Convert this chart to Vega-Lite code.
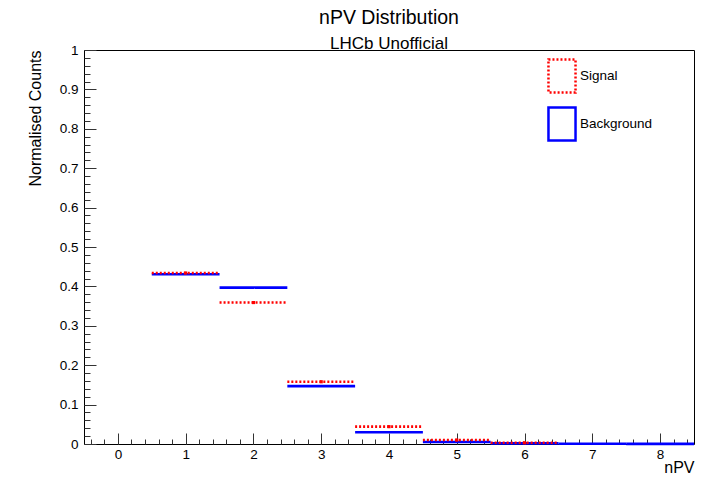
{
  "$schema": "https://vega.github.io/schema/vega-lite/v6.json",
  "width": 610,
  "height": 394,
  "autosize": "none",
  "padding": {"left": 84, "top": 50, "right": 29, "bottom": 37},
  "background": "white",
  "title": {
    "text": "nPV Distribution",
    "subtitle": "LHCb Unofficial",
    "anchor": "middle",
    "font": "Liberation Sans",
    "fontSize": 19.5,
    "fontWeight": "normal",
    "color": "black",
    "subtitleFont": "Liberation Sans",
    "subtitleFontSize": 17,
    "subtitleColor": "black",
    "subtitlePadding": 8,
    "offset": -10
  },
  "config": {
    "view": {"stroke": "black", "strokeWidth": 1},
    "axis": {
      "grid": false,
      "domain": false,
      "labelFont": "Liberation Sans",
      "titleFont": "Liberation Sans",
      "labelFontSize": 13.5,
      "titleFontSize": 16,
      "labelColor": "black",
      "titleColor": "black",
      "titleFontWeight": "normal",
      "tickColor": "#333333"
    }
  },
  "datasets": {
    "h": [
      {"series": "Background", "c": 1, "lo": 0.5, "hi": 1.5, "v": 0.431},
      {"series": "Background", "c": 2, "lo": 1.5, "hi": 2.5, "v": 0.397},
      {"series": "Background", "c": 3, "lo": 2.5, "hi": 3.5, "v": 0.147},
      {"series": "Background", "c": 4, "lo": 3.5, "hi": 4.5, "v": 0.030},
      {"series": "Background", "c": 5, "lo": 4.5, "hi": 5.5, "v": 0.005},
      {"series": "Background", "c": 6, "lo": 5.5, "hi": 6.5, "v": 0.0015},
      {"series": "Background", "c": 7, "lo": 6.5, "hi": 7.5, "v": 0.0006},
      {"series": "Background", "c": 8, "lo": 7.5, "hi": 8.5, "v": 0.0003},
      {"series": "Signal", "c": 1, "lo": 0.5, "hi": 1.5, "v": 0.434},
      {"series": "Signal", "c": 2, "lo": 1.5, "hi": 2.5, "v": 0.359},
      {"series": "Signal", "c": 3, "lo": 2.5, "hi": 3.5, "v": 0.158},
      {"series": "Signal", "c": 4, "lo": 3.5, "hi": 4.5, "v": 0.044},
      {"series": "Signal", "c": 5, "lo": 4.5, "hi": 5.5, "v": 0.010},
      {"series": "Signal", "c": 6, "lo": 5.5, "hi": 6.5, "v": 0.003}
    ],
    "one": [{"x": 0, "y": 0}]
  },
  "layer": [
    {
      "data": {"name": "h"},
      "mark": {"type": "rule", "strokeWidth": 2.6},
      "encoding": {
        "x": {
          "field": "lo", "type": "quantitative",
          "scale": {"domain": [-0.5, 8.5], "nice": false, "zero": false},
          "axis": {"orient": "bottom", "values": [0, 1, 2, 3, 4, 5, 6, 7, 8], "format": "~g", "tickSize": -11, "labelPadding": 14, "title": "nPV", "titleAnchor": "end", "titlePadding": -1}
        },
        "x2": {"field": "hi"},
        "y": {
          "field": "v", "type": "quantitative",
          "scale": {"domain": [0, 1], "nice": false},
          "axis": {"orient": "left", "values": [0, 0.1, 0.2, 0.3, 0.4, 0.5, 0.6, 0.7, 0.8, 0.9, 1], "format": "~g", "tickSize": -12, "labelPadding": 18, "title": "Normalised Counts", "titleAnchor": "end", "titlePadding": 16}
        },
        "color": {
          "field": "series", "type": "nominal",
          "scale": {"domain": ["Signal", "Background"], "range": ["#ff0000", "#0000ff"]},
          "legend": {"orient": "none", "legendX": 460, "legendY": 8, "title": null, "padding": 0, "symbolType": "M-0.82,-1H0.82V1H-0.82Z", "symbolSize": 1089, "symbolStrokeWidth": 2.5, "symbolFillColor": "transparent", "labelFont": "Liberation Sans", "labelFontSize": 13.5, "labelColor": "black", "labelOffset": 0, "rowPadding": 4}
        },
        "strokeDash": {
          "field": "series", "type": "nominal",
          "scale": {"domain": ["Signal", "Background"], "range": [[2, 2], [1, 0]]},
          "legend": {"orient": "none", "legendX": 460, "legendY": 8, "title": null, "padding": 0, "symbolType": "M-0.82,-1H0.82V1H-0.82Z", "symbolSize": 1089, "symbolStrokeWidth": 2.5, "symbolFillColor": "transparent", "labelFont": "Liberation Sans", "labelFontSize": 13.5, "labelColor": "black", "labelOffset": 0, "rowPadding": 4}
        }
      }
    },
    {
      "data": {"name": "h"},
      "transform": [{"filter": "datum.series == 'Signal'"}],
      "mark": {"type": "point", "shape": "square", "filled": true, "size": 10, "color": "#ff0000", "opacity": 1},
      "encoding": {
        "x": {"field": "c", "type": "quantitative", "axis": null},
        "y": {"field": "v", "type": "quantitative", "axis": null}
      }
    },
    {
      "data": {"name": "one"},
      "mark": {"type": "point", "opacity": 0},
      "encoding": {
        "x": {
          "field": "x", "type": "quantitative",
          "axis": {"orient": "bottom", "labels": false, "title": null, "tickSize": -5,
            "values": [-0.4, -0.2, 0, 0.2, 0.4, 0.6, 0.8, 1, 1.2, 1.4, 1.6, 1.8, 2, 2.2, 2.4, 2.6, 2.8, 3, 3.2, 3.4, 3.6, 3.8, 4, 4.2, 4.4, 4.6, 4.8, 5, 5.2, 5.4, 5.6, 5.8, 6, 6.2, 6.4, 6.6, 6.8, 7, 7.2, 7.4, 7.6, 7.8, 8, 8.2, 8.4]}
        },
        "y": {
          "field": "y", "type": "quantitative",
          "axis": {"orient": "left", "labels": false, "title": null, "tickSize": -6,
            "values": [0, 0.02, 0.04, 0.06, 0.08, 0.1, 0.12, 0.14, 0.16, 0.18, 0.2, 0.22, 0.24, 0.26, 0.28, 0.3, 0.32, 0.34, 0.36, 0.38, 0.4, 0.42, 0.44, 0.46, 0.48, 0.5, 0.52, 0.54, 0.56, 0.58, 0.6, 0.62, 0.64, 0.66, 0.68, 0.7, 0.72, 0.74, 0.76, 0.78, 0.8, 0.82, 0.84, 0.86, 0.88, 0.9, 0.92, 0.94, 0.96, 0.98, 1]}
        }
      }
    }
  ],
  "resolve": {"axis": {"x": "independent", "y": "independent"}}
}
